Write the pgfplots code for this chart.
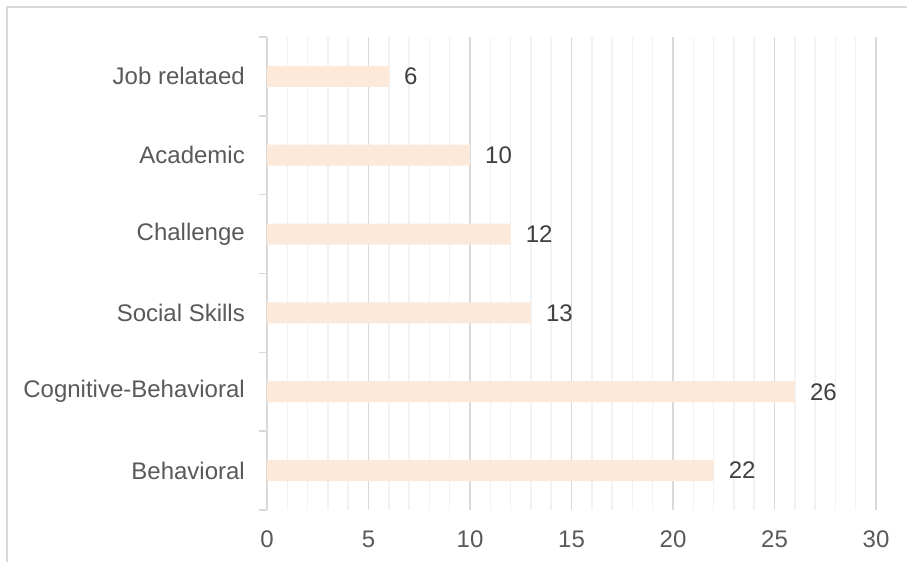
\documentclass[border=0pt]{standalone}
\usepackage{fontspec}
\setmainfont{Liberation Sans}
\usepackage{pgfplots}
\pgfplotsset{compat=1.18}
\definecolor{barc}{HTML}{FCE9DA}
\definecolor{majg}{HTML}{D9D9D9}
\definecolor{ming}{HTML}{F2F2F2}
\definecolor{txt}{HTML}{595959}
\definecolor{lbl}{HTML}{404040}
\begin{document}
\begin{tikzpicture}[x=1bp,y=1bp]
\path[use as bounding box] (0,0) rectangle (907,562);
\draw[majg, line width=2bp] (7,0) -- (7,554.5) -- (907,554.5);
\begin{axis}[
 at={(267bp,52bp)}, anchor=south west,
 scale only axis, width=609bp, height=473bp,
 xbar, bar width=21bp, bar shift=0pt,
 xmin=0, xmax=30, ymin=-0.5, ymax=5.5,
 axis y line*=left, axis x line*=bottom,
 x axis line style={draw=none},
 y axis line style={-, draw=majg, line width=2bp},
 xtick={0,5,...,30}, minor x tick num=4,
 xmajorgrids, xminorgrids,
 major grid style={majg, line width=1.5bp},
 minor grid style={ming, line width=1.5bp},
 ytick={0,...,5},
 yticklabels={Behavioral,Cognitive-Behavioral,Social Skills,Challenge,Academic,Job relataed},
 minor ytick={-0.5,0.5,...,5.5},
 major tick length=0pt, minor tick length=8bp, tick align=outside,
 minor x tick style={draw=none},
 major x tick style={draw=none},
 major y tick style={draw=none},
 minor y tick style={majg, line width=1.5bp},
 /pgf/number format/assume math mode=true,
 tick label style={font=\fontsize{24bp}{28bp}\selectfont, text=txt},
 xticklabel style={anchor=north, inner sep=0pt, yshift=-21bp},
 yticklabel style={anchor=east, inner sep=0pt, xshift=-22bp},
 nodes near coords,
 every node near coord/.append style={anchor=west, inner sep=0pt, xshift=15bp, font=\fontsize{24bp}{28bp}\selectfont, text=lbl},
]
\addplot[fill=barc, draw=none] coordinates {(22,0) (26,1) (13,2) (12,3) (10,4) (6,5)};
\end{axis}
\end{tikzpicture}
\end{document}
